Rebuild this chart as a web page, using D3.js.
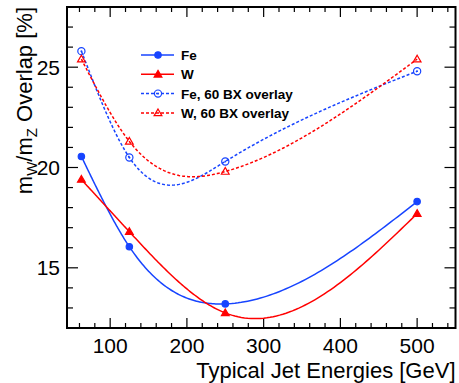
<!DOCTYPE html>
<html>
<head>
<meta charset="utf-8">
<script src="https://cdn.jsdelivr.net/npm/d3@7"></script>
<style>
  body { margin: 0; background: #fff; }
  text { font-family: "Liberation Sans", Arial, sans-serif; }
</style>
</head>
<body>
<div id="chart"></div>
<script>
// jet energies (GeV)
var energies = [62.5, 125, 250, 500];

// overlap values in percent
var fe_vals = [20.55, 16.05, 13.2, 18.3];
var w_vals = [19.4, 16.8, 12.75, 17.7];
var fe_bx_vals = [25.8, 20.5, 20.3, 24.8];
var w_bx_vals = [25.4, 21.3, 19.8, 25.4];

var series_names = ["Fe", "W", "Fe, 60 BX overlay", "W, 60 BX overlay"];
var x_ticks = [100, 200, 300, 400, 500];
var y_ticks = [15, 20, 25];

var blue = "#1744ff", red = "#ff0000";

// plot box edges (note: "top" is taken by window.top)
var w = 459, h = 383;
var pl = 67, pr = 455.5, pt = 7, pb = 328;

var svg = d3.select("#chart").append("svg")
    .attr("width", w)
    .attr("height", h);

var x = d3.scaleLinear().domain([43.75, 550]).range([pl, pr]);
var y = d3.scaleLinear().domain([12, 28]).range([pb, pt]);

// frame
svg.append("rect")
    .attr("x", pl).attr("y", pt)
    .attr("width", pr - pl).attr("height", pb - pt)
    .attr("fill", "none").attr("stroke", "#000").attr("stroke-width", 2);

// ticks on all four sides, pointing inwards
var x_minor = d3.range(60, 550, 20);
var y_minor = d3.range(13, 28, 1);

x_minor.forEach(function(v) {
    var major = v % 100 == 0;
    var len = major ? 10 : 5;
    svg.append("line").attr("x1", x(v)).attr("x2", x(v))
        .attr("y1", pb).attr("y2", pb - len)
        .attr("stroke", "#000").attr("stroke-width", 1.2);
    svg.append("line").attr("x1", x(v)).attr("x2", x(v))
        .attr("y1", pt).attr("y2", pt + len)
        .attr("stroke", "#000").attr("stroke-width", 1.2);
});
y_minor.forEach(function(v) {
    var major = v % 5 == 0;
    var len = major ? 11 : 6;
    svg.append("line").attr("y1", y(v)).attr("y2", y(v))
        .attr("x1", pl).attr("x2", pl + len)
        .attr("stroke", "#000").attr("stroke-width", 1.2);
    svg.append("line").attr("y1", y(v)).attr("y2", y(v))
        .attr("x1", pr).attr("x2", pr - len)
        .attr("stroke", "#000").attr("stroke-width", 1.2);
});

// tick labels
svg.selectAll(".xlab").data(x_ticks).enter().append("text")
    .attr("x", function(d) { return x(d); })
    .attr("y", 353)
    .attr("text-anchor", "middle")
    .style("font-size", "21px")
    .text(function(d) { return d; });

svg.selectAll(".ylab").data(y_ticks).enter().append("text")
    .attr("x", 60)
    .attr("y", function(d) { return y(d) + 7.5; })
    .attr("text-anchor", "end")
    .style("font-size", "21px")
    .text(function(d) { return d; });

// axis titles
svg.append("text")
    .attr("x", pr).attr("y", 378)
    .attr("text-anchor", "end")
    .style("font-size", "22px")
    .text("Typical Jet Energies [GeV]");

var yt = svg.append("text")
    .attr("transform", "translate(32," + pt + ") rotate(-90)")
    .attr("text-anchor", "end")
    .style("font-size", "22px");
yt.append("tspan").text("m");
yt.append("tspan").attr("dy", 5).style("font-size", "15px").text("W");
yt.append("tspan").attr("dy", -5).text("/m");
yt.append("tspan").attr("dy", 5).style("font-size", "15px").text("Z");
yt.append("tspan").attr("dy", -5).text(" Overlap [%]");

// natural cubic spline y(x) through the data points, sampled in data space
function natural_spline(t, v) {
    var n = t.length, M = new Array(n).fill(0);
    var a = [], b = [], c = [], r = [];
    for (var i = 1; i < n - 1; i++) {
        var h0 = t[i] - t[i - 1], h1 = t[i + 1] - t[i];
        a.push(h0); b.push(2 * (h0 + h1)); c.push(h1);
        r.push(6 * ((v[i + 1] - v[i]) / h1 - (v[i] - v[i - 1]) / h0));
    }
    var m = b.length;
    for (var i = 1; i < m; i++) {
        var k = a[i] / b[i - 1];
        b[i] -= k * c[i - 1];
        r[i] -= k * r[i - 1];
    }
    for (var i = m - 1; i >= 0; i--) {
        M[i + 1] = (r[i] - (i < m - 1 ? c[i] * M[i + 2] : 0)) / b[i];
    }
    var out = [];
    for (var i = 0; i < n - 1; i++) {
        var hh = t[i + 1] - t[i];
        for (var s = 0; s < 60; s++) {
            var bb = s / 60, aa = 1 - bb;
            out.push([t[i] + bb * hh,
                aa * v[i] + bb * v[i + 1] +
                ((aa * aa * aa - aa) * M[i] + (bb * bb * bb - bb) * M[i + 1]) * hh * hh / 6]);
        }
    }
    out.push([t[n - 1], v[n - 1]]);
    return out;
}

var line = d3.line()
    .x(function(d) { return x(d[0]); })
    .y(function(d) { return y(d[1]); });

var series = [
    { vals: fe_vals, color: blue, dash: null, marker: "circle", open: false },
    { vals: w_vals, color: red, dash: null, marker: "triangle", open: false },
    { vals: fe_bx_vals, color: blue, dash: "3,2", marker: "circle", open: true },
    { vals: w_bx_vals, color: red, dash: "3,2", marker: "triangle", open: true }
];

var tri = d3.symbol().type(d3.symbolTriangle).size(26);

function draw_marker(g, s, cx, cy) {
    if (s.marker == "circle") {
        g.append("circle").attr("cx", cx).attr("cy", cy).attr("r", s.open ? 3.6 : 3.2)
            .attr("fill", s.open ? "none" : s.color)
            .attr("stroke", s.color).attr("stroke-width", 1.2);
        if (s.open) {
            g.append("circle").attr("cx", cx).attr("cy", cy).attr("r", 0.9)
                .attr("fill", s.color);
        }
    } else {
        g.append("path").attr("d", tri)
            .attr("transform", "translate(" + cx + "," + (cy + 0.5) + ")")
            .attr("fill", s.open ? "none" : s.color)
            .attr("stroke", s.color).attr("stroke-width", 1.2);
    }
}

series.forEach(function(s) {
    svg.append("path")
        .attr("d", line(natural_spline(energies, s.vals)))
        .attr("fill", "none")
        .attr("stroke", s.color)
        .attr("stroke-width", 1.5)
        .attr("stroke-dasharray", s.dash);
    s.vals.forEach(function(v, i) {
        draw_marker(svg, s, x(energies[i]), y(v));
    });
});

// legend
series.forEach(function(s, i) {
    var ly = 55 + i * 19.3;
    svg.append("line")
        .attr("x1", 141).attr("x2", 174)
        .attr("y1", ly).attr("y2", ly)
        .attr("stroke", s.color).attr("stroke-width", 1.5)
        .attr("stroke-dasharray", s.dash);
    draw_marker(svg, s, 158, ly);
    svg.append("text")
        .attr("x", 181).attr("y", ly + 5)
        .style("font-size", "13.5px")
        .style("font-weight", "bold")
        .text(series_names[i]);
});
</script>
</body>
</html>
